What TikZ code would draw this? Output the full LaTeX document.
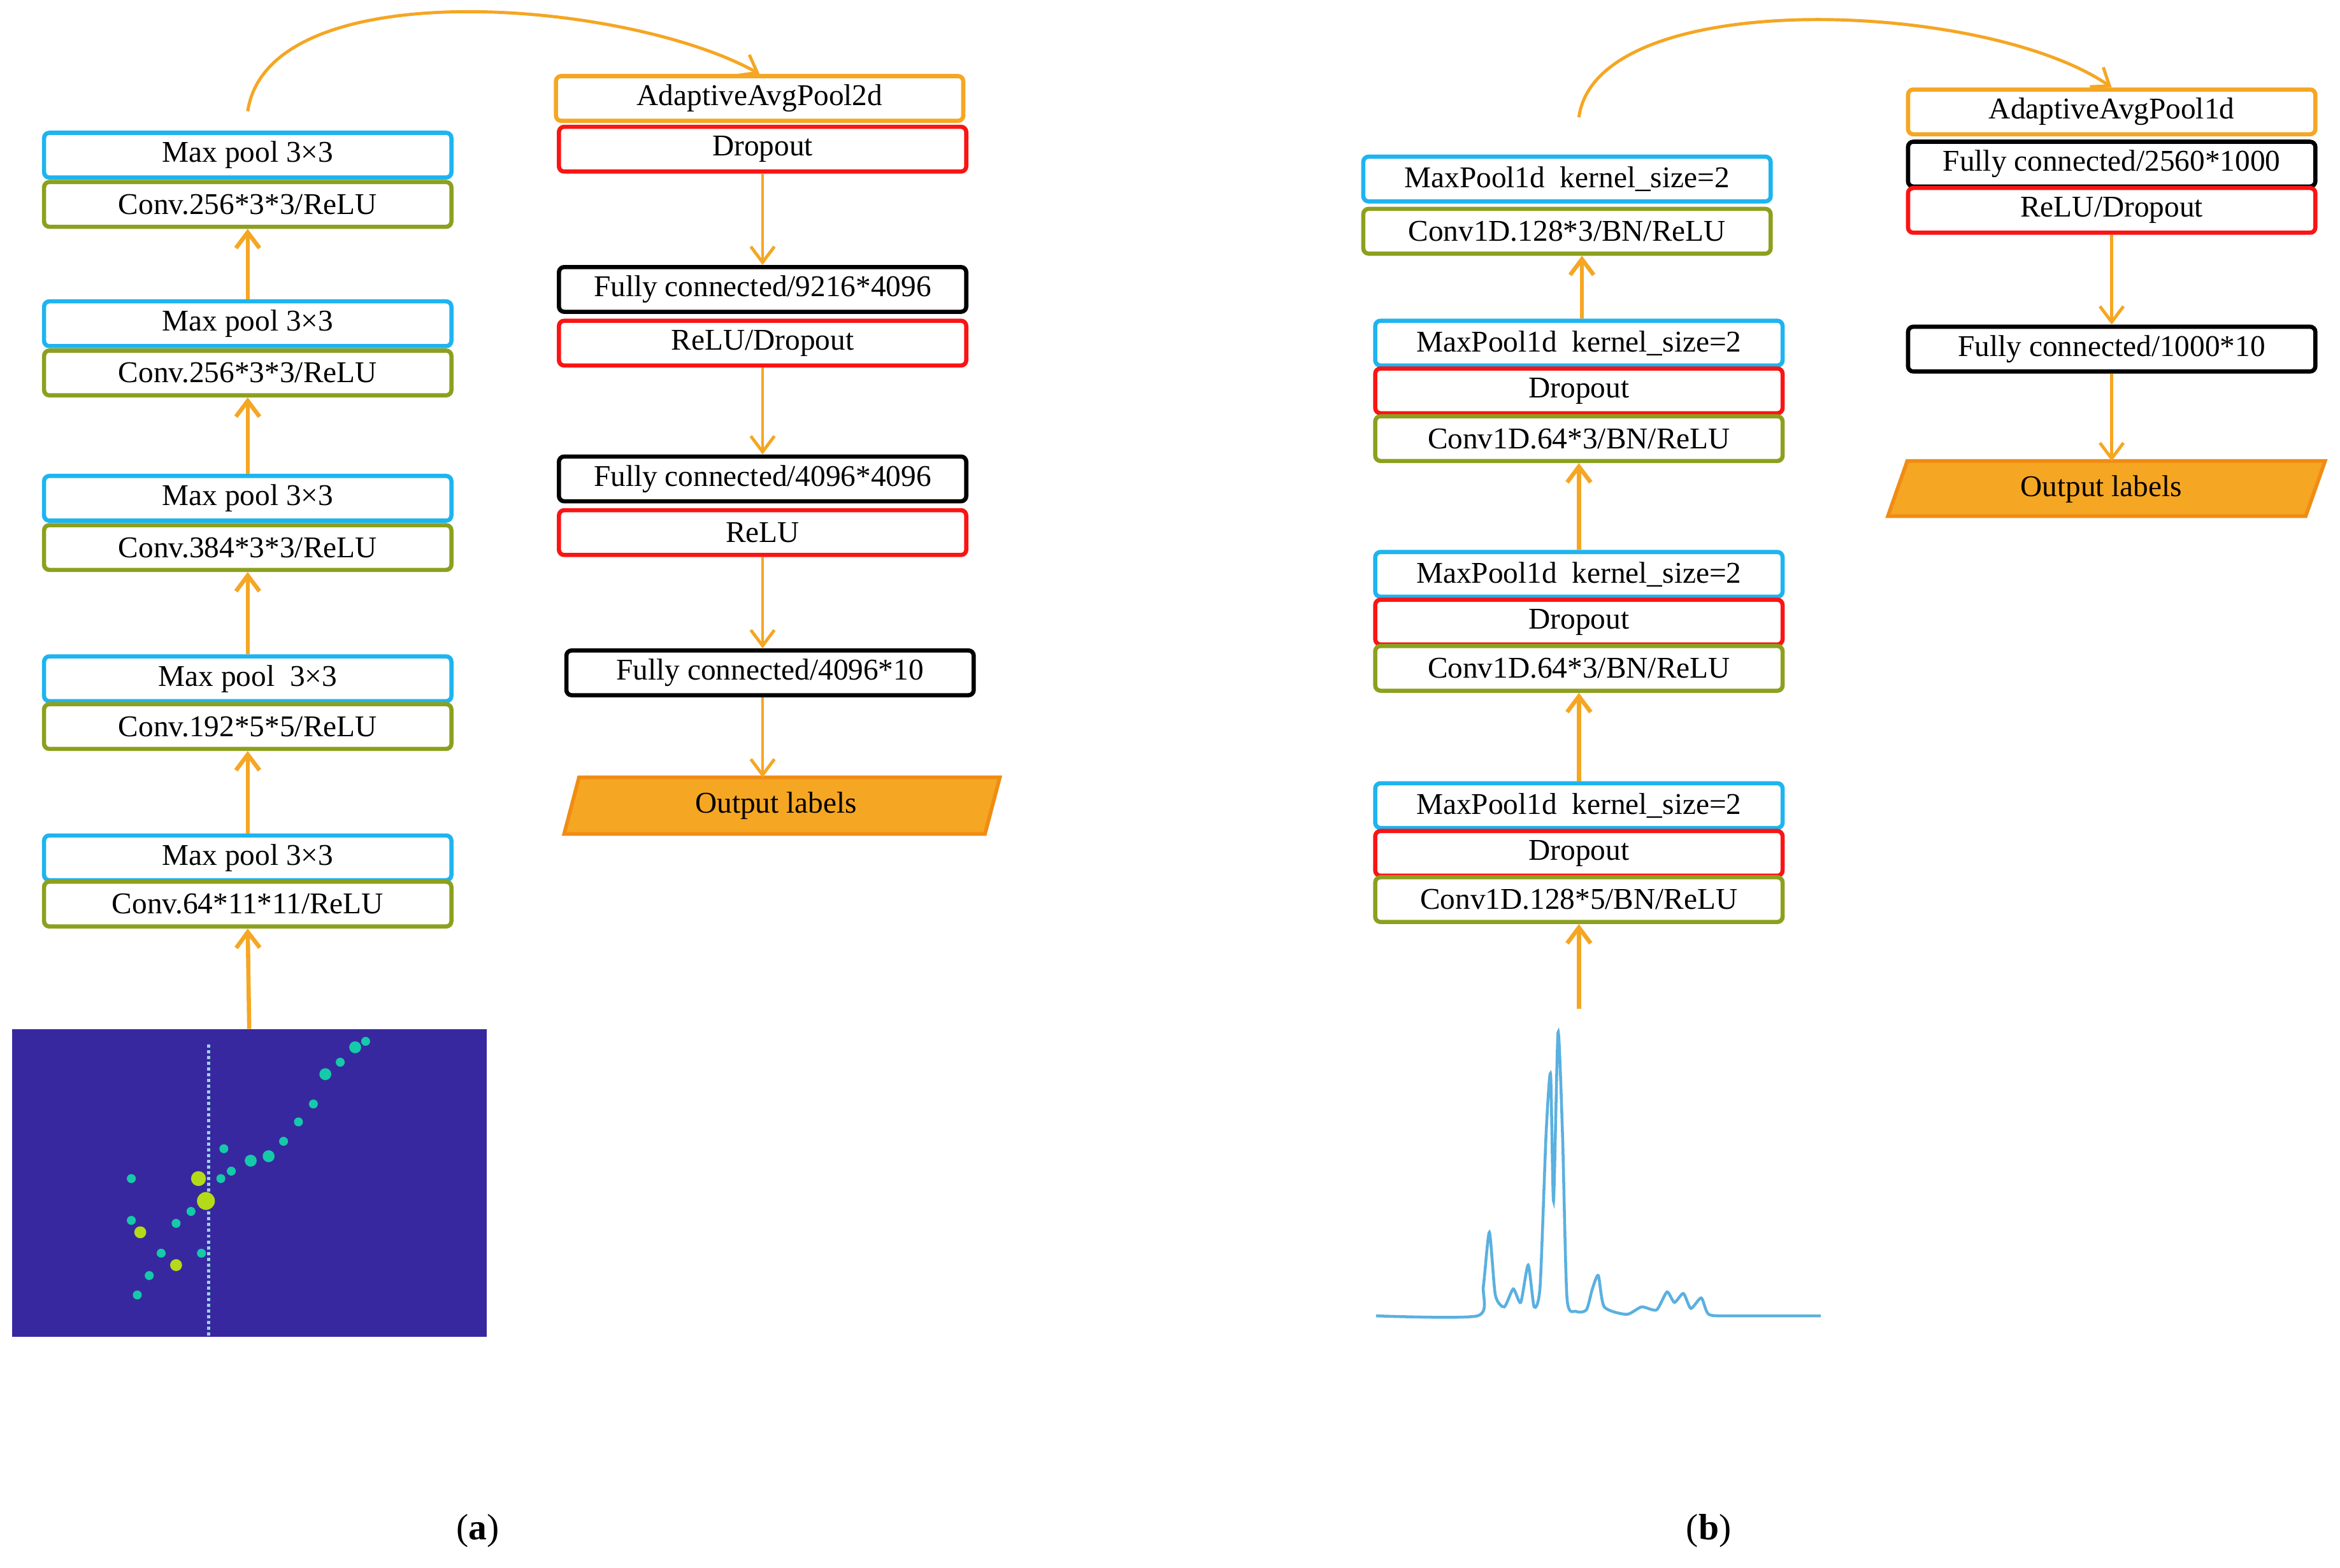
\documentclass[tikz,border=0pt]{standalone}
\usepackage{fontspec}
\setmainfont{Liberation Serif}
\usetikzlibrary{arrows.meta,shapes.geometric}
\definecolor{cy}{RGB}{30,180,240}
\definecolor{gr}{RGB}{141,160,30}
\definecolor{rd}{RGB}{250,20,20}
\definecolor{og}{RGB}{245,166,35}
\definecolor{od}{RGB}{240,140,20}
\definecolor{hm}{RGB}{55,40,160}
\definecolor{sp}{RGB}{90,176,224}
\begin{document}
\begin{tikzpicture}[x=0.02cm,y=-0.02cm,
 box/.style={draw=#1,line width=1.6pt,rounded corners=2pt,minimum width=5.46cm,minimum height=0.6cm,inner sep=0pt,font=\fontsize{11.5}{13}\selectfont},
 ar/.style={draw=og,line width=1.6pt,-{Straight Barb[length=6pt,width=9pt]}},
 ol/.style={fill=og,draw=od,line width=1.4pt},
 olt/.style={inner sep=0pt,minimum width=5.4cm,minimum height=0.74cm,font=\fontsize{11.5}{13}\selectfont}]
\useasboundingbox (0,0) rectangle (1568,1051);
% left column (a)
\node[box=cy] (m1) at (166,104) {Max pool 3×3};
\node[box=gr] (c1) at (166,137) {Conv.256*3*3/ReLU};
\node[box=cy] (m2) at (166,217) {Max pool 3×3};
\node[box=gr] (c2) at (166,250) {Conv.256*3*3/ReLU};
\node[box=cy] (m3) at (166,334) {Max pool 3×3};
\node[box=gr] (c3) at (166,367) {Conv.384*3*3/ReLU};
\node[box=cy] (m4) at (166,455) {Max pool \ 3×3};
\node[box=gr] (c4) at (166,487) {Conv.192*5*5/ReLU};
\node[box=cy] (m5) at (166,575) {Max pool 3×3};
\node[box=gr] (c5) at (166,606) {Conv.64*11*11/ReLU};
\node[fill=hm,minimum width=6.36cm,minimum height=4.12cm,inner sep=0pt] (img) at (167,793) {};
\draw[sp!60,densely dotted,line width=1.2pt] (140,700) -- (140,895);
\foreach \p/\c/\r in {{(218,720)}/cy/4,{(228,712)}/cy/3,{(238,702)}/cy/4,{(245,698)}/cy/3,{(210,740)}/cy/3,{(200,752)}/cy/3,{(190,765)}/cy/3,{(180,775)}/cy/4,{(168,778)}/cy/4,{(155,785)}/cy/3,{(148,790)}/cy/3,{(133,790)}/yellow/5,{(138,805)}/yellow/6,{(128,812)}/cy/3,{(118,820)}/cy/3,{(94,826)}/yellow/4,{(88,818)}/cy/3,{(108,840)}/cy/3,{(118,848)}/yellow/4,{(100,855)}/cy/3,{(92,868)}/cy/3,{(88,790)}/cy/3,{(150,770)}/cy/3,{(135,840)}/cy/3}
  \fill[\c!70!green] \p circle (\r);
\draw[ar] (img.north) -- (c5.south);
\draw[ar] (m5.north) -- (c4.south);
\draw[ar] (m4.north) -- (c3.south);
\draw[ar] (m3.north) -- (c2.south);
\draw[ar] (m2.north) -- (c1.south);
% middle column (a)
\node[box=og] (ap) at (509,66) {AdaptiveAvgPool2d};
\node[box=rd] (d1) at (511,100) {Dropout};
\node[box=black] (f1) at (511,194) {Fully connected/9216*4096};
\node[box=rd] (r1) at (511,230) {ReLU/Dropout};
\node[box=black] (f2) at (511,321) {Fully connected/4096*4096};
\node[box=rd] (r2) at (511,357) {ReLU};
\node[box=black] (f3) at (516,451) {Fully connected/4096*10};
\draw[ol] (378,559) -- (388,521) -- (670,521) -- (660,559) -- cycle;
\node[olt] (o1) at (520,540) {Output labels};
\draw[ar,line width=1.2pt] (d1.south) -- (f1.north);
\draw[ar,line width=1.2pt] (r1.south) -- (f2.north);
\draw[ar,line width=1.2pt] (r2.south) -- (r2.south |- f3.north);
\draw[ar,line width=1.2pt] ([xshift=-0.1cm]f3.south) -- ([xshift=-0.1cm]f3.south |- o1.north);
\draw[ar,line width=1.2pt] (m1.north) ++(0,-13) coordinate (s1) .. controls (180,-20) and (420,0) .. (ap.north);
% (b) column 1
\node[box=cy] (b1) at (1050,120) {MaxPool1d\ \ kernel\_size=2};
\node[box=gr] (b2) at (1050,155) {Conv1D.128*3/BN/ReLU};
\node[box=cy] (b3) at (1058,230) {MaxPool1d\ \ kernel\_size=2};
\node[box=rd] (b4) at (1058,262) {Dropout};
\node[box=gr] (b5) at (1058,294) {Conv1D.64*3/BN/ReLU};
\node[box=cy] (b6) at (1058,385) {MaxPool1d\ \ kernel\_size=2};
\node[box=rd] (b7) at (1058,417) {Dropout};
\node[box=gr] (b8) at (1058,448) {Conv1D.64*3/BN/ReLU};
\node[box=cy] (b9) at (1058,540) {MaxPool1d\ \ kernel\_size=2};
\node[box=rd] (b10) at (1058,572) {Dropout};
\node[box=gr] (b11) at (1058,603) {Conv1D.128*5/BN/ReLU};
\coordinate (spt) at (1058,676);
\draw[ar] (spt) -- (b11.south);
\draw[ar] (b9.north) -- (b8.south);
\draw[ar] (b6.north) -- (b5.south);
\draw[ar] ([xshift=0.04cm]b3.north) -- ([xshift=0.04cm]b3.north |- b2.south);
\draw[sp,line width=1.1pt] plot[smooth,tension=0.4] coordinates {(922,882)(990,882)(994,862)(998,826)(1002,868)(1008,876)(1014,864)(1019,873)(1024,848)(1028,876)(1032,862)(1036,760)(1039,720)(1041,805)(1044,692)(1047,760)(1050,870)(1056,879)(1063,878)(1067,864)(1071,855)(1075,876)(1090,881)(1100,876)(1110,878)(1117,866)(1122,873)(1128,867)(1133,877)(1140,870)(1145,881)(1160,882)(1220,882)};
% (b) column 2
\node[box=og] (ap2) at (1415,75) {AdaptiveAvgPool1d};
\node[box=black] (g1) at (1415,110) {Fully connected/2560*1000};
\node[box=rd] (g2) at (1415,141) {ReLU/Dropout};
\node[box=black] (g3) at (1415,234) {Fully connected/1000*10};
\draw[ol] (1265,346) -- (1278,309) -- (1558,309) -- (1545,346) -- cycle;
\node[olt] (o2) at (1408,328) {Output labels};
\draw[ar,line width=1.2pt] (g2.south) -- (g3.north);
\draw[ar,line width=1.2pt] (g3.south) -- (g3.south |- o2.north);
\draw[ar,line width=1.2pt] (b1.north) ++(8,-25) coordinate (s2) .. controls (1070,-10) and (1330,0) .. (ap2.north);
\node[font=\fontsize{14}{16}\selectfont] (la) at (320,1026) {(\textbf{a})};
\node[font=\fontsize{14}{16}\selectfont] (lb) at (1145,1026) {(\textbf{b})};
\end{tikzpicture}
\end{document}
